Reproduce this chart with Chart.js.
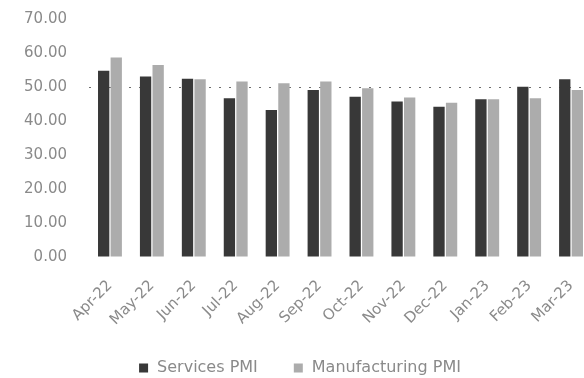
<!DOCTYPE html>
<html>
<head>
<meta charset="utf-8">
<script src="https://cdn.jsdelivr.net/npm/chart.js@4/dist/chart.umd.min.js"></script>
<style>
  html, body { margin: 0; padding: 0; background: #fff; overflow: hidden; width: 584px; height: 378px; }
  #wrap { width: 600px; height: 378px; position: relative; }
</style>
</head>
<body>
<div id="wrap"><canvas id="pmiChart" width="600" height="378"></canvas></div>
<script>
// Monthly PMI readings, Apr-22 to Mar-23
const months = ['Apr-22', 'May-22', 'Jun-22', 'Jul-22', 'Aug-22', 'Sep-22',
                'Oct-22', 'Nov-22', 'Dec-22', 'Jan-23', 'Feb-23', 'Mar-23'];
const servicesPMI = [54.8, 53.1, 52.4, 46.7, 43.2, 49.1, 47.1, 45.7, 44.2, 46.4, 50.1, 52.3];
const manufacturingPMI = [58.7, 56.5, 52.3, 51.6, 51.1, 51.6, 49.6, 46.9, 45.4, 46.4, 46.7, 49.1];
const yTickValues = [0, 10, 20, 30, 40, 50, 60, 70];
const expansionLine = 50;

const TEXT_COLOR = '#8a8a8a';
const FONT = { family: '"DejaVu Sans", sans-serif', size: 15 };
const LEGEND_FONT_SIZE = 16;
const SERVICES_COLOR = '#383838';
const MANUFACTURING_COLOR = '#acacac';
const CLEAR = 'rgba(0,0,0,0)';

// Legend row drawn under the axis labels
const bottomLegend = {
  id: 'bottomLegend',
  afterDraw(chart) {
    const ctx = chart.ctx;
    const items = chart.data.datasets.map(d => ({ text: d.label, color: d.backgroundColor }));
    ctx.save();
    ctx.font = LEGEND_FONT_SIZE + 'px ' + FONT.family;
    const box = 9, textGap = 9, itemGap = 36;
    const widths = items.map(it => box + textGap + ctx.measureText(it.text).width);
    const total = widths.reduce((a, b) => a + b, 0) + itemGap * (items.length - 1);
    let x = chart.width / 2 - total / 2;
    const y = 368;
    ctx.textBaseline = 'middle';
    ctx.textAlign = 'left';
    items.forEach((it, i) => {
      ctx.fillStyle = it.color;
      ctx.fillRect(x, y - box / 2, box, box);
      ctx.fillStyle = TEXT_COLOR;
      ctx.fillText(it.text, x + box + textGap, y);
      x += widths[i] + itemGap;
    });
    ctx.restore();
  }
};

new Chart(document.getElementById('pmiChart'), {
  type: 'bar',
  data: {
    labels: months,
    datasets: [
      { label: 'Services PMI', data: servicesPMI, backgroundColor: SERVICES_COLOR,
        categoryPercentage: 0.6, barPercentage: 0.9 },
      { label: 'Manufacturing PMI', data: manufacturingPMI, backgroundColor: MANUFACTURING_COLOR,
        categoryPercentage: 0.6, barPercentage: 0.9 }
    ]
  },
  options: {
    responsive: false,
    devicePixelRatio: 1,
    animation: false,
    layout: { padding: { top: 19, right: 8, bottom: 0, left: 0 } },
    plugins: {
      legend: { display: false },
      tooltip: { enabled: false }
    },
    scales: {
      x: {
        grid: { display: false, drawTicks: true, tickLength: 20 },
        border: { display: false },
        ticks: {
          color: TEXT_COLOR, font: FONT,
          minRotation: 45, maxRotation: 45, autoSkip: false, padding: 0
        },
        afterFit(scale) { scale.height = 121; }
      },
      y: {
        min: 0,
        max: 70,
        afterBuildTicks(scale) { scale.ticks = yTickValues.map(v => ({ value: v })); },
        ticks: {
          color: TEXT_COLOR, font: FONT, padding: 0,
          callback: v => Number(v).toFixed(2)
        },
        grid: {
          drawTicks: true,
          tickLength: 22,
          tickColor: CLEAR,
          lineWidth: 1,
          color: ctx => (ctx.tick && ctx.tick.value === expansionLine) ? '#6e6e6e' : CLEAR
        },
        border: { display: false, dash: [2, 8] },
        afterFit(scale) { scale.width = 89; }
      }
    }
  },
  plugins: [bottomLegend]
});
</script>
</body>
</html>
